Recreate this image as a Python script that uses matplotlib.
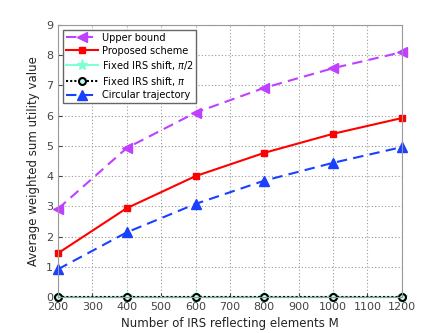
import matplotlib
matplotlib.use('Agg')
import matplotlib.pyplot as plt

M = [200, 400, 600, 800, 1000, 1200]
upper_bound = [2.92, 4.93, 6.1, 6.92, 7.57, 8.1]
proposed = [1.45, 2.94, 4.0, 4.77, 5.4, 5.92]
fixed_half_pi = [0, 0, 0, 0, 0, 0]
fixed_pi = [0, 0, 0, 0, 0, 0]
circular = [0.92, 2.14, 3.08, 3.85, 4.44, 4.96]

fig = plt.figure(figsize=(4.43, 3.33), dpi=100)
ax = fig.add_axes([0.131, 0.108, 0.776, 0.817])

ax.plot(M, upper_bound, color='#bf40ff', marker='<', markersize=7, lw=1.5,
        dashes=(5, 3), label='Upper bound', clip_on=False)
ax.plot(M, proposed, '-', color='red', marker='s', markersize=5, lw=1.5,
        label='Proposed scheme', clip_on=False)
ax.plot(M, fixed_half_pi, '-', color='#7fffd4', marker='*', markersize=8, lw=1.5,
        label=r'Fixed IRS shift, $\pi$/2', clip_on=False)
ax.plot(M, fixed_pi, color='black', marker='o', markersize=5, lw=1.5,
        dashes=(1, 1), markeredgewidth=1.5, markerfacecolor='#c0fff0',
        label=r'Fixed IRS shift, $\pi$', clip_on=False)
ax.plot(M, circular, color='#1a40ff', marker='^', markersize=7, lw=1.5,
        dashes=(5, 3), label='Circular trajectory', clip_on=False)

ax.set_xlim(200, 1200)
ax.set_ylim(0, 9)
ax.set_xticks(range(200, 1201, 100))
ax.set_yticks(range(0, 10))
ax.grid(True, linestyle=(0, (1, 2)), color='#999999', lw=0.8)
ax.tick_params(labelsize=8, direction='in', length=3, colors='#444444')
for s in ax.spines.values():
    s.set_color('#999999')
ax.set_xlabel('Number of IRS reflecting elements M', fontsize=8.5, color='#222222')
ax.set_ylabel('Average weighted sum utility value', fontsize=8.5, color='#222222')
leg = ax.legend(loc='upper left', fontsize=7, fancybox=False, framealpha=1,
                edgecolor='#666666', borderpad=0.3, labelspacing=0.3,
                handlelength=3.3, handletextpad=0.4)

fig.savefig('out.png', dpi=100)
